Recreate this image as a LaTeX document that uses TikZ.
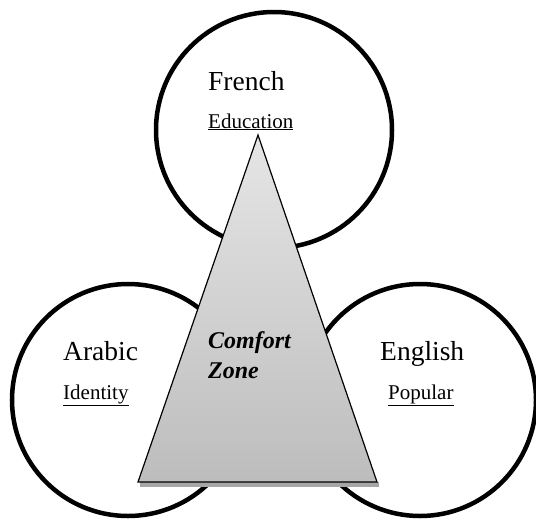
\documentclass[tikz,border=0pt]{standalone}
\usepackage{fontspec}
\setmainfont{Liberation Serif}

\begin{document}
\begin{tikzpicture}[x=1pt,y=-1pt,
    ring/.style={draw,line width=4.5pt},
    lang/.style={anchor=base west,inner sep=0pt,font=\fontsize{27.5}{30}\selectfont},
    role/.style={anchor=base west,inner sep=0pt,font=\fontsize{21}{24}\selectfont},
    zone/.style={anchor=base west,inner sep=0pt,font=\fontsize{24}{28}\selectfont\bfseries\itshape}]
    \useasboundingbox (0,0) rectangle (536,525);
    \coordinate (F) at (274,130);
    \coordinate (A) at (128,400);
    \coordinate (E) at (420,400);
    \coordinate (T) at (258,135);
    \coordinate (L) at (138,482);
    \coordinate (R) at (377,482);
    \draw[ring] (F) circle (118pt);
    \draw[ring] (A) circle (116pt);
    \draw[ring] (E) circle (116pt);
    \fill[black!35] (140,482) rectangle (379,487);
    \draw[line width=1.2pt,top color=black!10,bottom color=black!26] (T) -- (L) -- (R) -- cycle;
    \node[lang] (french) at (208,90) {French};
    \node[role] (education) at (208,128) {\underline{Education}};
    \node[lang] (arabic) at (63,360) {Arabic};
    \node[role] (identity) at (63,399) {\underline{Identity}};
    \node[lang] (english) at (380,360) {English};
    \node[role] (popular) at (388,399) {\underline{Popular}};
    \node[zone] (comfort) at (208,348) {Comfort};
    \node[zone] (zonetext) at (208,378) {Zone};
  \end{tikzpicture}
\end{document}
